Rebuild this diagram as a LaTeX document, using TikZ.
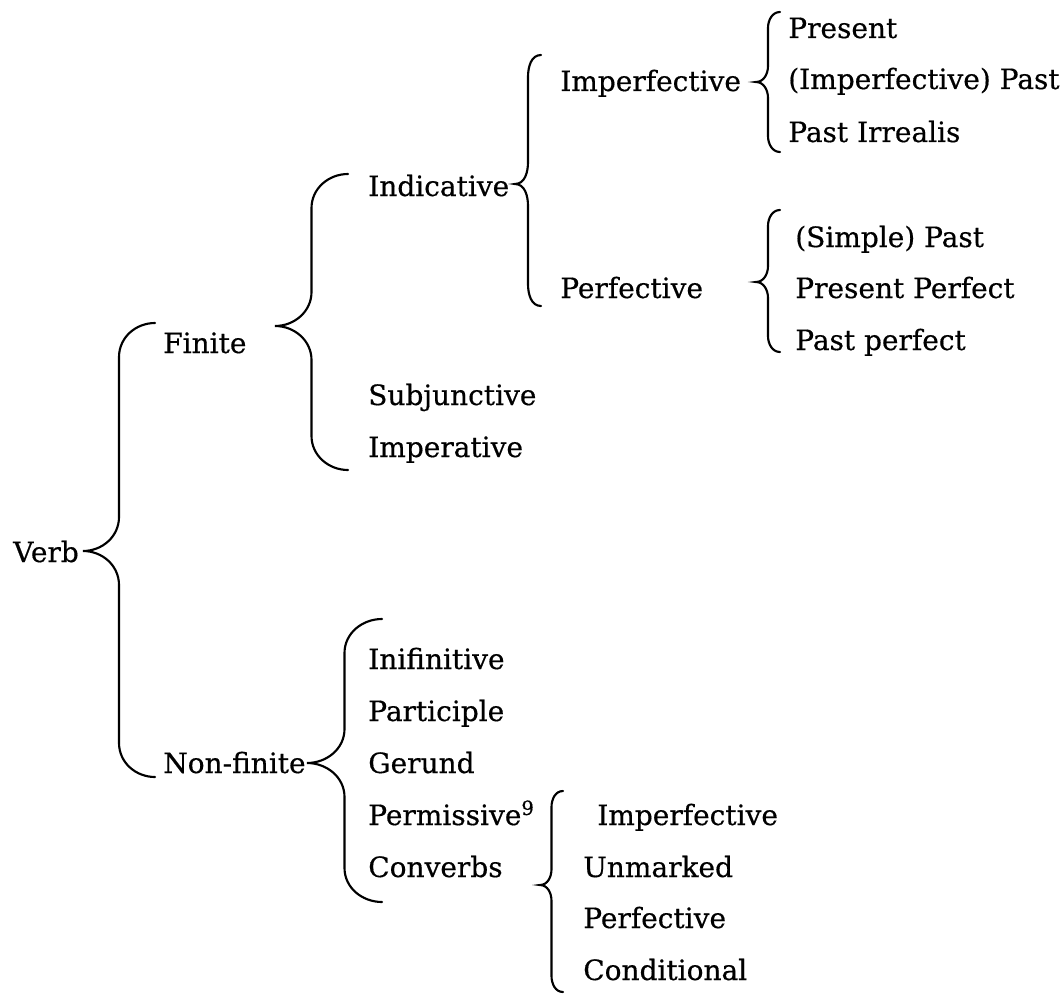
\documentclass[tikz,border=0pt]{standalone}
\usepackage{fontspec}
\setmainfont[FakeBold=0.5]{DejaVu Serif}
\usepackage{tikz}
\usetikzlibrary{calc}
\tikzset{
  lab/.style = {anchor=base west, inner sep=0pt,
    font=\fontsize{21}{25}\selectfont},% one entry of the tree
  brace line/.style = {draw=black, line width=1.6pt, line cap=round}% curly bracket
}
% curly bracket: tip, upper end, lower end, bend
\newcommand{\curly}[4]{%
  \path ($(#1)!.5!(#2)$) coordinate (spine);
  \draw[brace line] (#2) to[out=180,in=90] ($(spine |- #2)+(0,#4)$)
    -- ($(spine |- #1)+(0,-#4)$) to[out=-90,in=0] (#1)
    to[out=0,in=90] ($(spine |- #1)+(0,#4)$)
    -- ($(spine |- #3)+(0,-#4)$) to[out=-90,in=180] (#3);
}

\begin{document}
\begin{tikzpicture}[x=0.75pt,y=-0.75pt]
\useasboundingbox (0,0) rectangle (1063,995);
% root and first level
\node [lab] (verb) at (13,562) {Verb};
\node [lab] (finite) at (163,353) {Finite};
\node [lab] (nonfinite) at (163,773) {Non-finite};
% finite
\node [lab] (indicative) at (368,196) {Indicative};
\node [lab] (subjunctive) at (368,405) {Subjunctive};
\node [lab] (imperative) at (368,457) {Imperative};
\node [lab] (impf) at (560,91) {Imperfective};
\node [lab] (perf) at (560,298) {Perfective};
\node [lab] (present) at (788,38) {Present};
\node [lab] (impfpast) at (788,89) {(Imperfective) Past};
\node [lab] (pastirr) at (788,142) {Past Irrealis};
\node [lab] (simplepast) at (795,247) {(Simple) Past};
\node [lab] (presperf) at (795,298) {Present Perfect};
\node [lab] (pastperf) at (795,350) {Past perfect};
% non-finite
\node [lab] (infinitive) at (368,669) {Inifinitive};
\node [lab] (participle) at (368,721) {Participle};
\node [lab] (gerund) at (368,773) {Gerund};
\node [lab] (permissive) at (368,825) {Permissive\textsuperscript{9}};
\node [lab] (converbs) at (368,877) {Converbs};
\node [lab] (cimpf) at (597,825) {Imperfective};
\node [lab] (unmarked) at (583,877) {Unmarked};
\node [lab] (cperf) at (583,928) {Perfective};
\node [lab] (conditional) at (583,980) {Conditional};

% tips and ends of the brackets
\coordinate (verb-tip) at (83,551);
\coordinate (verb-top) at (155,323);
\coordinate (verb-bot) at (155,777);
\coordinate (fin-tip) at (275,326);
\coordinate (fin-top) at (348,174);
\coordinate (fin-bot) at (348,470);
\coordinate (ind-tip) at (515,184);
\coordinate (ind-top) at (541,55);
\coordinate (ind-bot) at (541,306);
\coordinate (impf-tip) at (756,82);
\coordinate (impf-top) at (780,12);
\coordinate (impf-bot) at (780,152);
\coordinate (perf-tip) at (756,282);
\coordinate (perf-top) at (780,210);
\coordinate (perf-bot) at (780,352);
\coordinate (nf-tip) at (307,763);
\coordinate (nf-top) at (382,619);
\coordinate (nf-bot) at (382,902);
\coordinate (cv-tip) at (540,885);
\coordinate (cv-top) at (563,791);
\coordinate (cv-bot) at (563,992);

\curly{verb-tip}{verb-top}{verb-bot}{34}
\curly{fin-tip}{fin-top}{fin-bot}{34}
\curly{ind-tip}{ind-top}{ind-bot}{22}
\curly{impf-tip}{impf-top}{impf-bot}{16}
\curly{perf-tip}{perf-top}{perf-bot}{16}
\curly{nf-tip}{nf-top}{nf-bot}{34}
\curly{cv-tip}{cv-top}{cv-bot}{16}
\end{tikzpicture}
\end{document}
